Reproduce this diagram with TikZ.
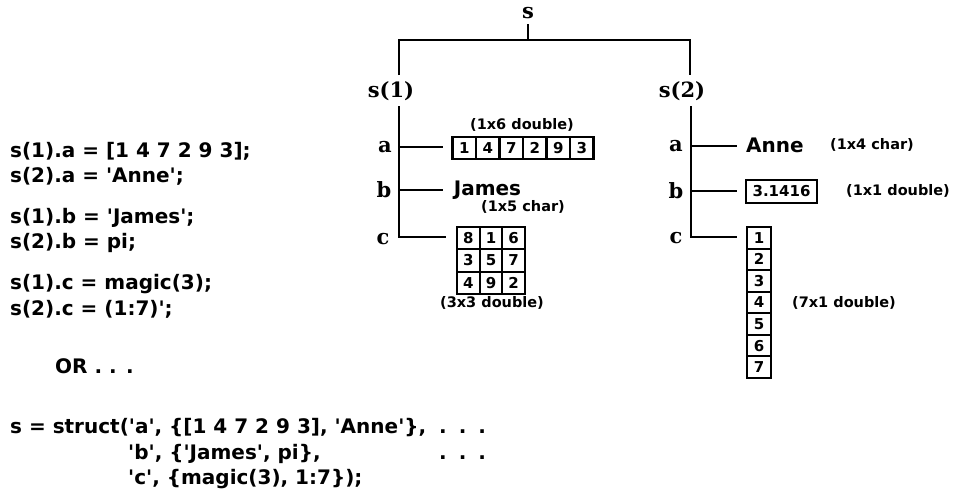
\documentclass[tikz,border=0pt]{standalone}
\usepackage{fontspec}
\setmainfont{DejaVu Sans}
\newfontfamily\trserif{DejaVu Serif}
\newcommand\q{\textquotesingle}
\newcommand\codefnt{\fontsize{20}{24}\selectfont\bfseries}
\newcommand\treefnt{\trserif\fontsize{21}{25}\selectfont\bfseries}
\newcommand\notefnt{\fontsize{14.5}{17}\selectfont\bfseries}
\newcommand\cellfnt{\fontsize{15}{18}\selectfont\bfseries}
\tikzset{
  codeline/.style={anchor=base west, inner sep=0pt, font=\codefnt},
  treelabel/.style={inner sep=1pt, font=\treefnt},
  notelabel/.style={inner sep=0pt, font=\notefnt},
  strtext/.style={inner sep=0pt, font=\fontsize{20}{24}\selectfont\bfseries},
  cell/.style={draw, line width=2.1pt, minimum width=23.5pt, minimum height=21.5pt, inner sep=0pt, font=\cellfnt},
  treeline/.style={line width=2.3pt},
}
\begin{document}
\begin{tikzpicture}[x=1pt,y=-1pt]
\useasboundingbox (0,0) rectangle (961,496);
% ---------- code on the left ----------
\node[codeline] (l1) at (10,157) {s(1).a = [1 4 7 2 9 3];};
\node[codeline] (l2) at (10,182) {s(2).a = \q Anne\q;};
\node[codeline] (l3) at (10,223) {s(1).b = \q James\q;};
\node[codeline] (l4) at (10,248) {s(2).b = pi;};
\node[codeline] (l5) at (10,289) {s(1).c = magic(3);};
\node[codeline] (l6) at (10,315) {s(2).c = (1:7)\q;};
\node[codeline] (or) at (55,373) {OR . . .};
\node[codeline] (st1) at (10,433) {s = struct(\q a\q, \{[1 4 7 2 9 3], \q Anne\q\},};
\node[codeline] (st2) at (128,459) {\q b\q, \{\q James\q, pi\},};
\node[codeline] (st3) at (128,484) {\q c\q, \{magic(3), 1:7\});};
\node[codeline] (d1) at (439,433) {.\hspace{12pt}.\hspace{12pt}.};
\node[codeline] (d2) at (439,459) {.\hspace{12pt}.\hspace{12pt}.};
% ---------- tree ----------
\node[treelabel] (s) at (528,13) {s};
\node[treelabel] (s1) at (391,91) {s(1)};
\node[treelabel] (s2) at (682,91) {s(2)};
\node[treelabel] (a1) at (385,147) {a};
\node[treelabel] (b1) at (384,190) {b};
\node[treelabel] (c1) at (383,239) {c};
\node[treelabel] (a2) at (676,146) {a};
\node[treelabel] (b2) at (676,191) {b};
\node[treelabel] (c2) at (676,238) {c};
\coordinate (j) at (528,40);
\coordinate (s1top) at (399,75);
\coordinate (s2top) at (690,75);
\coordinate (s1bot) at (399,106);
\coordinate (s2bot) at (691,106);
\coordinate (a1e) at (443,147);
\coordinate (b1e) at (443,190);
\coordinate (c1e) at (446,237);
\coordinate (a2e) at (737,146);
\coordinate (b2e) at (737,191);
\coordinate (c2e) at (737,237);
\draw[treeline] (528,24) -- (j);
\draw[treeline] (s1top) |- (j) -| (s2top);
\draw[treeline] (s1bot) |- (c1e);
\draw[treeline] (s1bot |- a1e) -- (a1e);
\draw[treeline] (s1bot |- b1e) -- (b1e);
\draw[treeline] (s2bot) |- (c2e);
\draw[treeline] (s2bot |- a2e) -- (a2e);
\draw[treeline] (s2bot |- b2e) -- (b2e);
% ---------- s(1) values ----------
\node[notelabel] (n16) at (522,125) {(1x6 double)};
\foreach \v [count=\i] in {1,4,7,2,9,3} {
  \node[cell] (r\i) at ({452.5+23.5*(\i-1)+11.75},148) {\v};
}
\node[strtext] (james) at (487.5,190) {James};
\node[notelabel] (n15) at (523,207) {(1x5 char)};
\foreach \row [count=\r] in {{8,1,6},{3,5,7},{4,9,2}} {
  \foreach \v [count=\c] in \row {
    \node[cell, minimum width=22.7pt, minimum height=22.3pt] (m\r\c) at ({457+22.67*(\c-1)+11.33},{227+22.33*(\r-1)+11.17}) {\v};
  }
}
\node[notelabel] (n33) at (492,303) {(3x3 double)};
% ---------- s(2) values ----------
\node[strtext] (anne) at (775,145) {Anne};
\node[notelabel] (n14) at (872,145) {(1x4 char)};
\node[cell, minimum width=71pt, minimum height=23pt] (pi) at (781.5,191.5) {3.1416};
\node[notelabel] (n11) at (898,191) {(1x1 double)};
\foreach \v in {1,...,7} {
  \node[cell, minimum width=24pt, minimum height=21.6pt] (k\v) at (759,{227+21.57*(\v-1)+10.78}) {\v};
}
\node[notelabel] (n71) at (844,303) {(7x1 double)};
\end{tikzpicture}
\end{document}
